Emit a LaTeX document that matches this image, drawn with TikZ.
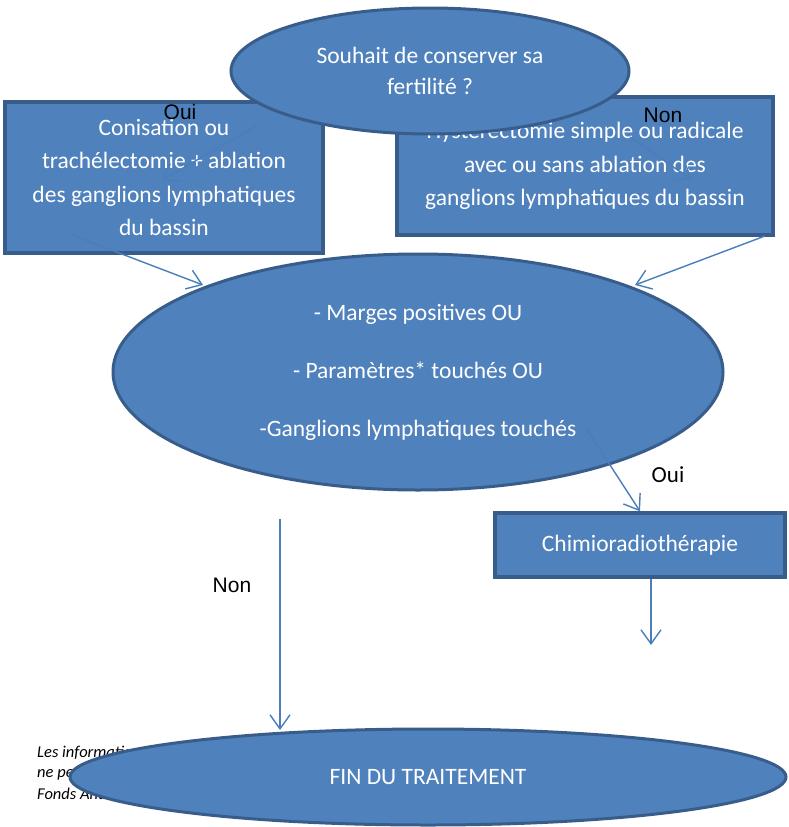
\documentclass[tikz,border=0pt]{standalone}
\usepackage{fontspec}
\setmainfont{Carlito}
\newfontfamily\labelfont{Liberation Sans}
\usetikzlibrary{shapes.geometric,arrows.meta}
\definecolor{boxfill}{HTML}{4F81BD}
\definecolor{boxline}{HTML}{385D8A}
\definecolor{arrowline}{HTML}{4A7EBB}
\begin{document}
\begin{tikzpicture}[x=1pt,y=-1pt,
    bubble/.style={ellipse,draw=boxline,fill=boxfill,line width=3pt,inner sep=0pt,
      text=white,align=center,font=\fontsize{23.5}{31}\selectfont},
    stepbox/.style={rectangle,draw=boxline,fill=boxfill,line width=3.5pt,inner sep=0pt,
      text=white,align=center,font=\fontsize{23.5}{33.5}\selectfont},
    link/.style={draw=arrowline,line width=1.4pt,
      -{Straight Barb[length=14pt,width=20pt]}},
    answer/.style={font=\labelfont\fontsize{21}{24}\selectfont},
    footnote/.style={anchor=west,inner sep=0pt,font=\itshape\fontsize{16.5}{20}\selectfont}]
  \useasboundingbox (0,0) rectangle (788,827);
  % footnote, mostly hidden by the last ellipse
  \node[footnote] (foot1) at (37,753) {Les informations};
  \node[footnote] (foot2) at (37,774) {ne peuvent};
  \node[footnote] (foot3) at (37,794) {Fonds Anticancer};
  % first level
  \node[stepbox,minimum width=318,minimum height=151] (conis) at (164,177.5)
    {Conisation ou\\trachélectomie + ablation\\des ganglions lymphatiques\\du bassin};
  \node[stepbox,minimum width=376,minimum height=138] (hyster) at (585,166)
    {Hystérectomie simple ou radicale\\avec ou sans ablation des\\ganglions lymphatiques du bassin};
  \node[bubble,minimum width=398,minimum height=126] (fert) at (430,71)
    {Souhait de conserver sa\\fertilité ?};
  \coordinate (oui0) at (258,125);
  \coordinate (oui1) at (162,180);
  \coordinate (non0) at (630,137);
  \coordinate (non1) at (692,180);
  \draw[link] (oui0) -- (oui1);
  \draw[link] (non0) -- (non1);
  \node[answer] (oui) at (180,112) {Oui};
  \node[answer] (non) at (663,115) {Non};
  % second level
  \node[bubble,minimum width=610,minimum height=236] (marges) at (418,372)
    {- Marges positives OU\\[27pt]- Paramètres* touchés OU\\[27pt]-Ganglions lymphatiques touchés};
  \coordinate (conisout) at (72,235);
  \coordinate (hysterout) at (765,236);
  \coordinate (margesout) at (586,428);
  \coordinate (margesdown) at (280,519);
  \draw[link] (conisout) -- (203,285);
  \draw[link] (hysterout) -- (635,285);
  \node[stepbox,minimum width=290,minimum height=64] (chimio) at (640,545)
    {Chimioradiothérapie};
  \draw[link] (margesout) -- (chimio.north);
  \node[font=\fontsize{23}{26}\selectfont] (oui2) at (668,475) {Oui};
  \coordinate (chimioend) at (651,645);
  \draw[link] (chimio.south -| chimioend) -- (chimioend);
  % end
  \node[bubble,minimum width=716,minimum height=96] (fin) at (428,777)
    {FIN DU TRAITEMENT};
  \draw[link] (margesdown) -- (margesdown |- 0,730);
  \node[answer] (non2) at (232,585) {Non};
\end{tikzpicture}
\end{document}
